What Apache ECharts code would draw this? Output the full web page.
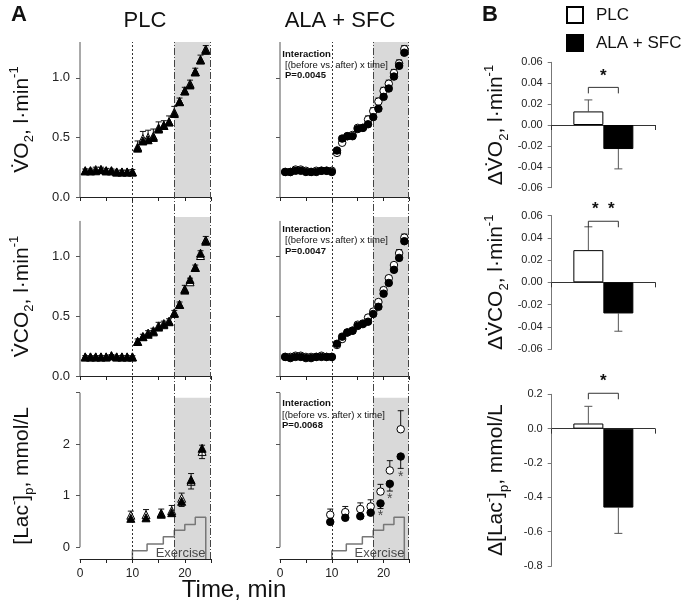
<!DOCTYPE html>
<html><head><meta charset="utf-8">
<script src="https://cdn.jsdelivr.net/npm/echarts@6/dist/echarts.min.js"></script>
<style>html,body{margin:0;padding:0;background:#fff}#c{width:700px;height:612px}</style>
</head><body><div id="c"></div>
<script>
// ---------------- DATA ----------------
const gasTime = [1,2,3,4,5,6,7,8,9,10,11,12,13,14,15,16,17,18,19,20,21,22,23,24];
const lacTime = [9.7,12.6,15.5,17.5,19.4,21.2,23.3];

// PLC VO2 (open = before, filled = after)
const plcVO2Open    = [0.22,0.22,0.23,0.23,0.22,0.22,0.21,0.21,0.21,0.21,0.42,0.49,0.50,0.51,0.58,0.60,0.63,0.71,0.80,0.89,0.95,1.05,1.15,1.24];
const plcVO2OpenErr = [0.015,0.015,0.02,0.02,0.02,0.015,0.015,0.015,0.015,0.02,0.05,0.06,0.06,0.06,0.05,0.04,0.05,0.05,0.03,0.03,0.03,0.03,0.04,0.03];
const plcVO2Fill    = [0.22,0.22,0.22,0.23,0.22,0.22,0.21,0.21,0.21,0.21,0.41,0.47,0.48,0.50,0.57,0.60,0.63,0.70,0.80,0.89,0.94,1.05,1.15,1.23];
const plcVO2FillErr = [0.01,0.01,0.01,0.01,0.01,0.01,0.01,0.01,0.01,0.01,0.03,0.03,0.03,0.03,0.03,0.03,0.03,0.03,0.03,0.03,0.03,0.03,0.03,0.02];
// ALA+SFC VO2
const alaVO2Open    = [0.21,0.21,0.23,0.23,0.22,0.21,0.22,0.22,0.22,0.22,0.37,0.455,0.51,0.52,0.58,0.58,0.65,0.72,0.80,0.89,0.95,1.04,1.12,1.24];
const alaVO2OpenErr = [0.01,0.01,0.015,0.015,0.01,0.01,0.01,0.01,0.01,0.01,0.02,0.02,0.02,0.02,0.02,0.02,0.03,0.03,0.03,0.03,0.03,0.03,0.03,0.03];
const alaVO2Fill    = [0.21,0.21,0.22,0.22,0.21,0.21,0.21,0.22,0.22,0.21,0.39,0.49,0.51,0.51,0.57,0.58,0.61,0.67,0.74,0.84,0.91,1.01,1.10,1.21];
const alaVO2FillErr = [0.01,0.01,0.01,0.01,0.01,0.01,0.01,0.01,0.01,0.01,0.02,0.02,0.02,0.02,0.02,0.02,0.02,0.02,0.02,0.02,0.02,0.02,0.02,0.02];
// PLC VCO2
const plcVCO2Open    = [0.16,0.16,0.16,0.16,0.16,0.17,0.16,0.16,0.16,0.16,0.29,0.33,0.36,0.38,0.42,0.44,0.46,0.53,0.60,0.73,0.79,0.91,1.01,1.14];
const plcVCO2OpenErr = [0.01,0.01,0.01,0.01,0.01,0.01,0.01,0.01,0.01,0.01,0.02,0.02,0.02,0.02,0.03,0.02,0.02,0.02,0.02,0.03,0.03,0.02,0.04,0.03];
const plcVCO2Fill    = [0.16,0.16,0.16,0.16,0.16,0.17,0.16,0.16,0.16,0.16,0.29,0.33,0.35,0.37,0.41,0.43,0.455,0.525,0.60,0.72,0.81,0.91,1.03,1.13];
const plcVCO2FillErr = [0.01,0.01,0.01,0.01,0.01,0.01,0.01,0.01,0.01,0.01,0.02,0.02,0.02,0.02,0.02,0.02,0.02,0.02,0.02,0.02,0.03,0.02,0.03,0.02];
// ALA+SFC VCO2
const alaVCO2Open    = [0.16,0.16,0.17,0.17,0.16,0.16,0.16,0.17,0.16,0.16,0.26,0.31,0.365,0.38,0.43,0.44,0.49,0.54,0.62,0.72,0.82,0.93,1.03,1.16];
const alaVCO2OpenErr = [0.01,0.01,0.01,0.01,0.01,0.01,0.01,0.01,0.01,0.01,0.02,0.02,0.02,0.02,0.02,0.02,0.02,0.02,0.02,0.02,0.02,0.02,0.03,0.03];
const alaVCO2Fill    = [0.16,0.15,0.16,0.16,0.15,0.15,0.16,0.16,0.16,0.16,0.27,0.33,0.365,0.38,0.42,0.435,0.455,0.52,0.58,0.69,0.78,0.89,0.99,1.13];
const alaVCO2FillErr = [0.01,0.01,0.01,0.01,0.01,0.01,0.01,0.01,0.01,0.01,0.02,0.02,0.02,0.02,0.02,0.02,0.02,0.02,0.02,0.02,0.02,0.02,0.02,0.02];
// Lactate
const plcLacOpen    = [0.62,0.63,0.66,0.71,0.95,1.28,1.86];
const plcLacOpenErr = [0.08,0.10,0.08,0.10,0.10,0.15,0.12];
const plcLacFill    = [0.56,0.57,0.64,0.67,0.89,1.31,1.92];
const plcLacFillErr = [0.06,0.06,0.06,0.06,0.10,0.18,0.20];
const alaLacOpen    = [0.63,0.68,0.74,0.79,1.08,1.49,2.29];
const alaLacOpenErr = [0.11,0.11,0.12,0.13,0.14,0.19,0.36];
const alaLacFill    = [0.49,0.57,0.60,0.67,0.85,1.23,1.76];
const alaLacFillErr = [0.04,0.04,0.04,0.04,0.10,0.14,0.23];
const starTime = [19.4,21.2,23.3];
const starVal  = [0.61,0.94,1.36];
// Exercise protocol steps
const stepTime  = [10,12.8,15.9,18,20,22,24];
const stepLevel = [-0.07,0.06,0.2,0.33,0.44,0.58];
// Phase markers (min)
const phaseLines = [10,18,24.8];
// Panel B (delta after - before)
const groups = ['PLC','ALA + SFC'];
const dVO2  = [0.013,-0.023];  const dVO2Err  = [0.011,0.019];
const dVCO2 = [0.029,-0.028];  const dVCO2Err = [0.021,0.016];
const dLac  = [0.03,-0.46];    const dLacErr  = [0.10,0.15];
const bracketVal = [0.036,0.055,0.206];
const sigText = ['*','*  *','*'];
const pTexts = ['P=0.0045','P=0.0047','P=0.0068'];

// ---------------- CHART ----------------
const F = '"Liberation Sans", Arial, Helvetica, sans-serif';
const AX = '#555';
const chart = echarts.init(document.getElementById('c'));
const grids=[], xAxes=[], yAxes=[], series=[];

const richL = {
  n:{fontSize:21,fontFamily:F,color:'#111',lineHeight:28},
  sub:{fontSize:13,fontFamily:F,color:'#111',verticalAlign:'bottom',lineHeight:13},
  sup:{fontSize:13,fontFamily:F,color:'#111',verticalAlign:'top',lineHeight:13}
};
const vo2Name  = '{n|V\u0307O}{sub|2}{n|, l\u00b7min}{sup|-1}';
const vco2Name = '{n|V\u0307CO}{sub|2}{n|, l\u00b7min}{sup|-1}';
const lacName  = '{n|[Lac}{sup|-}{n|]}{sub|p}{n|, mmol/L}';

const colGeom = [{left:80,width:131},{left:280,width:129.5}];
const rowGeom = [{top:42,height:155},{top:217,height:159},{top:392.7,height:166.3}];
const rowCfg = [
  {min:0,max:1.3,lo:0,hi:1.3,ticks:[0,0.5,1],labels:[0,0.5,1],fmt:v=>v.toFixed(1),name:vo2Name,shadeTop:1.3},
  {min:0,max:1.333,lo:0,hi:1.3,ticks:[0,0.5,1],labels:[0,0.5,1],fmt:v=>v.toFixed(1),name:vco2Name,shadeTop:1.333},
  {min:-0.23,max:3,lo:0,hi:3,ticks:[0,1,2,3],labels:[0,1,2],fmt:v=>String(Math.round(v)),name:lacName,shadeTop:2.9}
];
const panelData = [
  [[plcVO2Open,plcVO2OpenErr,plcVO2Fill,plcVO2FillErr],[alaVO2Open,alaVO2OpenErr,alaVO2Fill,alaVO2FillErr]],
  [[plcVCO2Open,plcVCO2OpenErr,plcVCO2Fill,plcVCO2FillErr],[alaVCO2Open,alaVCO2OpenErr,alaVCO2Fill,alaVCO2FillErr]],
  [[plcLacOpen,plcLacOpenErr,plcLacFill,plcLacFillErr],[alaLacOpen,alaLacOpenErr,alaLacFill,alaLacFillErr]]
];

function errRender(dir){
  return function(params, api){
    const x=api.value(0), y=api.value(1), e=api.value(2);
    const p0=api.coord([x,y]), p1=api.coord([x,y+dir*e]);
    const w=3;
    return {type:'group',children:[
      {type:'line',shape:{x1:p0[0],y1:p0[1],x2:p1[0],y2:p1[1]},style:{stroke:'#111',lineWidth:1}},
      {type:'line',shape:{x1:p1[0]-w,y1:p1[1],x2:p1[0]+w,y2:p1[1]},style:{stroke:'#111',lineWidth:1}}
    ]};
  };
}

for (let r=0;r<3;r++){
  for (let c=0;c<2;c++){
    const gi = grids.length;
    grids.push({left:colGeom[c].left,width:colGeom[c].width,top:rowGeom[r].top,height:rowGeom[r].height});
    const cfg=rowCfg[r];
    xAxes.push({gridIndex:gi,type:'value',min:0,max:25,interval:5,
      axisLine:{show:true,onZero:false,lineStyle:{color:'#222',width:1}},
      axisTick:{show:true,length:4,lineStyle:{color:'#222'}},
      axisLabel:{show:r===2,customValues:[0,10,20],fontSize:12,fontFamily:F,color:'#222',margin:9},
      splitLine:{show:false}});
    yAxes.push({gridIndex:gi,type:'value',min:cfg.min,max:cfg.max,
      axisLine:{show:false},
      axisTick:{show:true,length:4,customValues:cfg.ticks,lineStyle:{color:AX}},
      axisLabel:{show:c===0,customValues:cfg.labels,formatter:cfg.fmt,fontSize:13,fontFamily:F,color:'#222',margin:10},
      splitLine:{show:false},
      name:c===0?cfg.name:'',nameLocation:'middle',nameGap:44,nameRotate:90,
      nameTextStyle:{rich:richL,fontSize:21,fontFamily:F,color:'#111'}});
    // shading
    series.push({type:'line',xAxisIndex:gi,yAxisIndex:gi,data:[],z:1,silent:true,
      markArea:{silent:true,itemStyle:{color:'#d9d9d9'},data:[[{xAxis:phaseLines[1],yAxis:cfg.min},{xAxis:phaseLines[2],yAxis:cfg.shadeTop}]]}});
    // y axis line
    series.push({type:'line',xAxisIndex:gi,yAxisIndex:gi,data:[[0,cfg.lo],[0,cfg.hi]],symbol:'none',z:4,silent:true,
      lineStyle:{color:AX,width:1}});
    const d = panelData[r][c];
    const t = r===2 ? lacTime : gasTime;
    const sym = c===0 ? 'triangle' : 'circle';
    const ss = c===0 ? 8 : 7.5;
    if (r===2){
      // exercise step profile
      const pts=[[stepTime[0],cfg.min]];
      for (let i=0;i<stepLevel.length;i++){ pts.push([stepTime[i],stepLevel[i]]); pts.push([stepTime[i+1],stepLevel[i]]); }
      pts.push([stepTime[stepTime.length-1],cfg.min]);
      series.push({type:'line',xAxisIndex:gi,yAxisIndex:gi,data:pts,symbol:'none',z:3,silent:true,
        lineStyle:{color:'#777',width:1.5}});
      series.push({type:'scatter',xAxisIndex:gi,yAxisIndex:gi,data:[[19.2,-0.115]],symbolSize:0,z:3,silent:true,
        label:{show:true,position:'inside',formatter:'Exercise',fontSize:13,fontFamily:F,color:'#222'}});
    }
    series.push({type:'custom',xAxisIndex:gi,yAxisIndex:gi,renderItem:errRender(1),z:5,silent:true,
      encode:{x:0,y:1},data:t.map((x,i)=>[x,d[0][i],d[1][i]])});
    series.push({type:'scatter',xAxisIndex:gi,yAxisIndex:gi,symbol:sym,symbolSize:ss,z:6,silent:true,
      itemStyle:{color:'#fff',borderColor:'#000',borderWidth:1,opacity:1},data:t.map((x,i)=>[x,d[0][i]])});
    series.push({type:'custom',xAxisIndex:gi,yAxisIndex:gi,renderItem:errRender(-1),z:7,silent:true,
      encode:{x:0,y:1},data:t.map((x,i)=>[x,d[2][i],d[3][i]])});
    series.push({type:'scatter',xAxisIndex:gi,yAxisIndex:gi,symbol:sym,symbolSize:ss,z:8,silent:true,
      itemStyle:{color:'#000',borderColor:'#000',borderWidth:1,opacity:1},data:t.map((x,i)=>[x,d[2][i]])});
    if (r===2 && c===1){
      series.push({type:'scatter',xAxisIndex:gi,yAxisIndex:gi,symbolSize:0,z:8,silent:true,
        label:{show:true,position:'inside',formatter:'*',fontSize:14,fontFamily:F,color:'#222'},
        data:starTime.map((x,i)=>[x,starVal[i]])});
    }
  }
}
// overlay grids for phase lines (span the whole column)
for (let c=0;c<2;c++){
  const gi=grids.length;
  grids.push({left:colGeom[c].left,width:colGeom[c].width,top:42,height:517});
  xAxes.push({gridIndex:gi,type:'value',min:0,max:25,show:false});
  yAxes.push({gridIndex:gi,type:'value',min:0,max:1,show:false});
  series.push({type:'scatter',xAxisIndex:gi,yAxisIndex:gi,data:[],z:2,silent:true,
    markLine:{silent:true,symbol:['none','none'],label:{show:false},animation:false,
      data:[
        {xAxis:phaseLines[0],lineStyle:{type:[2,2],color:'#333',width:1}},
        {xAxis:phaseLines[1],lineStyle:{type:[7,2,1,2],color:'#444',width:1}},
        {xAxis:phaseLines[2],lineStyle:{type:[7,2,1,2],color:'#444',width:1}}
      ]}});
}

// Panel B
const bGeom = [{top:62.3,height:125.4},{top:215.7,height:133.3},{top:394.3,height:171.7}];
const bCfg = [
  {min:-0.06,max:0.06,interval:0.02,fmt:v=>v.toFixed(2),vals:dVO2,errs:dVO2Err,name:'{n|\u0394V\u0307O}{sub|2}{n|, l\u00b7min}{sup|-1}'},
  {min:-0.06,max:0.06,interval:0.02,fmt:v=>v.toFixed(2),vals:dVCO2,errs:dVCO2Err,name:'{n|\u0394V\u0307CO}{sub|2}{n|, l\u00b7min}{sup|-1}'},
  {min:-0.8,max:0.2,interval:0.2,fmt:v=>v.toFixed(1),vals:dLac,errs:dLacErr,name:'{n|\u0394[Lac}{sup|-}{n|]}{sub|p}{n|, mmol/L}'}
];
const BW = 30;
for (let k=0;k<3;k++){
  const gi=grids.length, cfg=bCfg[k];
  grids.push({left:551.7,width:103.3,top:bGeom[k].top,height:bGeom[k].height});
  xAxes.push({gridIndex:gi,type:'category',data:['d'],
    axisLine:{show:true,onZero:true,lineStyle:{color:'#333'}},
    axisTick:{show:true,length:5,lineStyle:{color:'#333'}},axisLabel:{show:false}});
  yAxes.push({gridIndex:gi,type:'value',min:cfg.min,max:cfg.max,interval:cfg.interval,
    axisLine:{show:true,lineStyle:{color:'#777'}},
    axisTick:{show:true,length:4,lineStyle:{color:'#777'}},
    axisLabel:{formatter:cfg.fmt,fontSize:11,fontFamily:F,color:'#222',margin:9},
    splitLine:{show:false},
    name:cfg.name,nameLocation:'middle',nameGap:41,nameRotate:90,
    nameTextStyle:{rich:richL,fontSize:21,fontFamily:F,color:'#111'}});
  series.push({type:'bar',name:groups[0],xAxisIndex:gi,yAxisIndex:gi,data:[cfg.vals[0]],barWidth:BW,barGap:'0%',z:3,silent:true,
    itemStyle:{color:'#fff',borderColor:'#000',borderWidth:1}});
  series.push({type:'bar',name:groups[1],xAxisIndex:gi,yAxisIndex:gi,data:[cfg.vals[1]],barWidth:BW,barGap:'0%',z:3,silent:true,
    itemStyle:{color:'#000',borderColor:'#000',borderWidth:1}});
  // error bars
  series.push({type:'custom',xAxisIndex:gi,yAxisIndex:gi,z:2,silent:true,
    data:[[0,cfg.vals[0],cfg.errs[0],-1],[0,cfg.vals[1],cfg.errs[1],1]],
    encode:{x:0,y:1},
    renderItem:function(params,api){
      const v=api.value(1), e=api.value(2), side=api.value(3);
      const dir = v>=0?1:-1;
      const p0=api.coord([0,v]), p1=api.coord([0,v+dir*e]);
      const x=p0[0]+side*BW/2;
      return {type:'group',children:[
        {type:'line',shape:{x1:x,y1:p0[1],x2:x,y2:p1[1]},style:{stroke:'#555',lineWidth:1}},
        {type:'line',shape:{x1:x-4,y1:p1[1],x2:x+4,y2:p1[1]},style:{stroke:'#555',lineWidth:1}}
      ]};
    }});
  // significance bracket
  series.push({type:'custom',xAxisIndex:gi,yAxisIndex:gi,z:4,silent:true,clip:false,
    data:[[0,bracketVal[k]]],encode:{x:0,y:1},
    renderItem:function(params,api){
      const p=api.coord([0,api.value(1)]);
      const x1=p[0]-BW/2, x2=p[0]+BW/2, y=p[1];
      return {type:'group',children:[
        {type:'polyline',shape:{points:[[x1,y+6],[x1,y],[x2,y],[x2,y+6]]},style:{stroke:'#333',lineWidth:1,fill:null}},
        {type:'text',style:{text:sigText[k],x:p[0],y:y-3,align:'center',verticalAlign:'bottom',fontSize:17,fontWeight:'bold',fontFamily:F,fill:'#111'}}
      ]};
    }});
}

const graphics = [
  {type:'text',left:11,top:4,z:100,style:{text:'A',fontSize:22,fontWeight:'bold',fontFamily:F,fill:'#111'}},
  {type:'text',left:482,top:4,z:100,style:{text:'B',fontSize:22,fontWeight:'bold',fontFamily:F,fill:'#111'}},
  {type:'text',x:145,y:21,z:100,style:{text:'PLC',fontSize:22,fontFamily:F,fill:'#111',align:'center',verticalAlign:'middle'}},
  {type:'text',x:340,y:21,z:100,style:{text:'ALA + SFC',fontSize:22,fontFamily:F,fill:'#111',align:'center',verticalAlign:'middle'}},
  {type:'text',x:234,y:590,z:100,style:{text:'Time, min',fontSize:24,fontFamily:F,fill:'#111',align:'center',verticalAlign:'middle'}}
];
const annY = [[54,65,75.7],[229,240.7,251],[403.3,415,425.7]];
for (let k=0;k<3;k++){
  const dx = k===2?0:3;
  graphics.push({type:'text',x:282.3,y:annY[k][0],z:100,style:{text:'Interaction',fontSize:9.5,fontWeight:'bold',fontFamily:F,fill:'#111',verticalAlign:'middle'}});
  graphics.push({type:'text',x:282+dx,y:annY[k][1],z:100,style:{text:'[(before vs. after) x time]',fontSize:9.5,fontFamily:F,fill:'#111',verticalAlign:'middle'}});
  graphics.push({type:'text',x:282+dx,y:annY[k][2],z:100,style:{text:pTexts[k],fontSize:9.5,fontWeight:'bold',fontFamily:F,fill:'#111',verticalAlign:'middle'}});
}

chart.setOption({
  animation:false,
  backgroundColor:'#fff',
  grid:grids, xAxis:xAxes, yAxis:yAxes, series:series,
  legend:{data:groups,orient:'vertical',left:561,top:1,itemWidth:16,itemHeight:16,itemGap:10,icon:'rect',selectedMode:false,
    textStyle:{fontSize:17,fontFamily:F,color:'#111',padding:[0,0,0,8]}},
  graphic:graphics
});
</script>
</body></html>
